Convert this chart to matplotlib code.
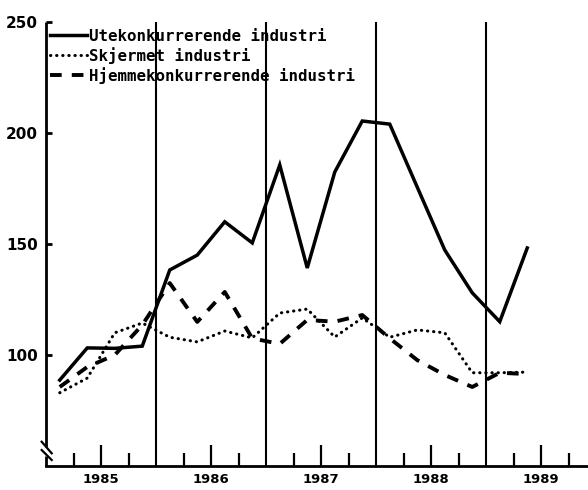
import matplotlib
matplotlib.use("Agg")
import matplotlib.pyplot as plt
from matplotlib.font_manager import FontProperties
from matplotlib.ticker import FixedLocator

# ---- data (quarterly index values) ----
quarters = ["1985Q1", "1985Q2", "1985Q3", "1985Q4",
            "1986Q1", "1986Q2", "1986Q3", "1986Q4",
            "1987Q1", "1987Q2", "1987Q3", "1987Q4",
            "1988Q1", "1988Q2", "1988Q3", "1988Q4",
            "1989Q1", "1989Q2"]
ute = [88.7, 103.2, 103.0, 104.0, 138.3, 145.0, 160.0, 150.5,
       185.6, 139.2, 182.4, 205.4, 204.0, 175.6, 147.3, 128.0, 115.0, 148.2]
skj = [83.0, 89.6, 110.0, 114.4, 108.0, 105.9, 110.8, 107.7,
       118.9, 120.7, 108.1, 116.7, 108.0, 111.3, 110.0, 92.0, 92.0, 92.3]
hje = [85.6, 94.6, 100.0, 113.5, 132.4, 114.9, 128.4, 107.5,
       105.0, 115.8, 115.0, 118.0, 107.5, 97.7, 91.0, 85.6, 92.0, 91.4]
labels = ["Utekonkurrerende industri", "Skjermet industri",
          "Hjemmekonkurrerende industri"]
years = [1985, 1986, 1987, 1988, 1989]
year_bounds = [1986, 1987, 1988, 1989]
yticks = [100, 150, 200, 250]

# quarter midpoints on a continuous year axis
xq = [int(q[:4]) + (int(q[-1]) - 0.5) / 4 for q in quarters]

fig = plt.figure(figsize=(5.88, 4.90), dpi=100)
ax = fig.add_axes([46 / 588, 24 / 490, 542 / 588, 444 / 490])
ax.set_xlim(1985, 1985 + 542 / 110)
ax.set_ylim(50, 250)

ax.plot(xq, ute, color="black", lw=2.5, solid_joinstyle="miter",
        label=labels[0], zorder=3)
ax.plot(xq, skj, color="black", lw=2.2, linestyle=(0, (0.1, 1.9)),
        dash_capstyle="round", label=labels[1], zorder=3)
ax.plot(xq, hje, color="black", lw=2.8, linestyle=(0, (3.0, 2.6)),
        label=labels[2], zorder=3)

for yb in year_bounds:
    ax.axvline(yb, color="black", lw=1.5, zorder=2)

# spines
for s in ["top", "right", "left"]:
    ax.spines[s].set_visible(False)
ax.spines["bottom"].set_linewidth(2.0)

# left axis with break
gap_lo, gap_hi = 0.0225, 0.0417
ax.plot([0, 0], [gap_hi, 1.0], transform=ax.transAxes, color="black",
        lw=2.0, clip_on=False, solid_capstyle="butt")
ax.plot([0, 0], [0, gap_lo], transform=ax.transAxes, color="black",
        lw=2.0, clip_on=False, solid_capstyle="butt")
ax.plot([-0.008, 0.0105], [0.0547, 0.0286], transform=ax.transAxes,
        color="black", lw=1.6, clip_on=False)
ax.plot([-0.008, 0.0105], [0.036, 0.0135], transform=ax.transAxes,
        color="black", lw=1.6, clip_on=False)

# y ticks
ax.set_yticks(yticks)
ax.set_yticklabels([str(v) for v in yticks])
ax.tick_params(axis="y", direction="in", length=4, width=2.0, pad=6,
               labelsize=11)
for t in ax.get_yticklabels():
    t.set_fontweight("bold")

# x ticks: labels at mid-year, minor quarter ticks
ax.xaxis.set_major_locator(FixedLocator([y + 0.5 for y in years]))
ax.set_xticklabels([str(y) for y in years])
ax.xaxis.set_minor_locator(FixedLocator([y + f for y in years for f in (0.25, 0.75)]))
ax.tick_params(axis="x", which="major", direction="in", length=15, width=1.6,
               pad=5, labelsize=9.5)
ax.tick_params(axis="x", which="minor", direction="in", length=9.5, width=1.6)
for t in ax.get_xticklabels():
    t.set_fontweight("bold")

fp = FontProperties(family="DejaVu Sans Mono", weight="bold", size=11.3)
ax.legend(loc="upper left", bbox_to_anchor=(0.008, 0.985), frameon=False,
          prop=fp, handlelength=2.35, handletextpad=0.1, labelspacing=0.2,
          borderaxespad=0, borderpad=0)

fig.savefig("out.png", dpi=100)
